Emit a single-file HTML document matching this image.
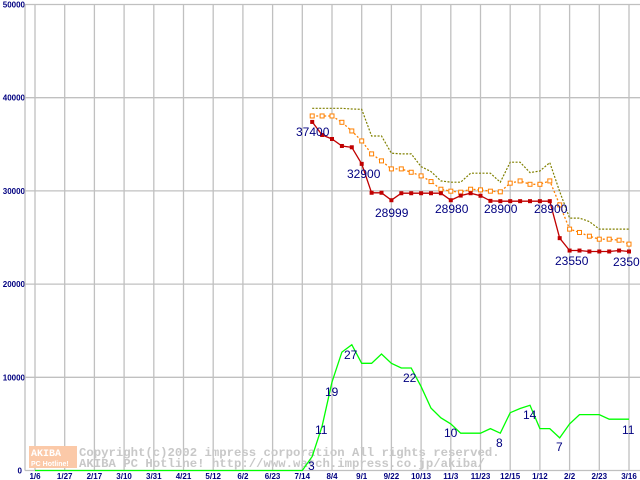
<!DOCTYPE html>
<html><head><meta charset="utf-8"><style>
html,body{margin:0;padding:0;background:#fff;width:640px;height:480px;overflow:hidden}
svg{display:block}
</style></head><body>
<svg id="chart" width="640" height="480" xmlns="http://www.w3.org/2000/svg" font-family="Liberation Sans, sans-serif">
<g id="grid"></g>
<g id="watermark">
<rect x="29" y="446" width="48" height="22" fill="#fbc9a8"/>
<text x="31" y="456" font-size="10" font-weight="bold" fill="#ffffff" font-family="Liberation Mono, monospace">AKIBA</text>
<text x="31" y="466" font-size="7" font-weight="bold" fill="#ffffff">PC Hotline!</text>
<text x="79" y="456" font-size="12.3" font-weight="bold" fill="#c8c8c8" font-family="Liberation Mono, monospace">Copyright(c)2002 impress corporation All rights reserved.</text>
<text x="79" y="467" font-size="12.3" font-weight="bold" fill="#c8c8c8" font-family="Liberation Mono, monospace">AKIBA PC Hotline!  http://www.watch.impress.co.jp/akiba/</text>
</g>
<g id="series"></g>
<g id="labels" font-size="12" fill="#000080">
<text x="296" y="136">37400</text>
<text x="347" y="178">32900</text>
<text x="375" y="217">28999</text>
<text x="435" y="213">28980</text>
<text x="484" y="213">28900</text>
<text x="534" y="213">28900</text>
<text x="555" y="265">23550</text>
<text x="613" y="266">23500</text>
<text x="308" y="470">3</text>
<text x="315" y="434">11</text>
<text x="325" y="396">19</text>
<text x="344" y="359">27</text>
<text x="403" y="382">22</text>
<text x="444" y="437">10</text>
<text x="496" y="447">8</text>
<text x="523" y="419">14</text>
<text x="556" y="451">7</text>
<text x="622" y="434">11</text>
</g>
</svg>
<script>
const xTickLabels = ["1/6","1/27","2/17","3/10","3/31","4/21","5/12","6/2","6/23","7/14","8/4","9/1","9/22","10/13","11/3","11/23","12/15","1/12","2/2","2/23","3/16"];
const yTickValues = [0,10000,20000,30000,40000,50000];
const priceStart = 28;
const minPrice = [37400,36000,35570,34820,34680,32900,29800,29800,29000,29750,29750,29750,29750,29750,29000,29500,29750,29480,28930,28900,28900,28900,28900,28900,28900,24930,23600,23600,23500,23500,23500,23600,23500];
const avgPrice = [38040,38040,38040,37360,36430,35360,33970,33220,32360,32360,32000,31610,31000,30180,29970,29860,30180,30110,29970,29900,30830,31070,30710,30710,31070,28500,25900,25540,25140,24820,24820,24710,24290];
const maxPrice = [38860,38860,38860,38860,38790,38750,35890,35890,34040,33970,33970,32610,32070,31070,30930,30930,31900,31900,31900,30930,33080,33080,31960,32140,33040,29930,27080,27080,26710,25900,25900,25900,25900];
const shopStart = 27;
const shopCount = [0,3,9.5,19,25.4,27,23,23,25,23,22,22,18,13.4,11.3,10,8,8,8,9,8,12.4,13.3,14,9,9,7,10,12,12,12,11,11,11];
const countScale = 500;

const NS = "http://www.w3.org/2000/svg";
const X0 = 35, STEP = 9.9, YTOP = 4.5, YBOT = 470.5;
function xAt(i){ return X0 + i*STEP; }
function yAt(v){ return YBOT - (v/50000)*(YBOT-YTOP); }
function mk(tag, attrs, parent){ const e=document.createElementNS(NS,tag); for(const k in attrs) e.setAttribute(k,attrs[k]); parent.appendChild(e); return e; }

const grid=document.getElementById('grid');
yTickValues.forEach(v=>{
  const l=mk('line',{x1:25,x2:640,y1:yAt(v),y2:yAt(v),stroke:'#c0c0c0','stroke-width':1.3},grid);
  
  
  const t=mk('text',{x:v===0?22:25,y:yAt(v)+3,'font-size':8,'font-weight':'bold',fill:'#000080','text-anchor':'end'},grid);
  t.textContent=String(v);
  
  
});
const ax=mk('line',{x1:25,x2:25,y1:YTOP,y2:YBOT,stroke:'#c0c0c0','stroke-width':1.3},grid);


xTickLabels.forEach((s,k)=>{
  const x=xAt(k*3);
  const l=mk('line',{x1:x,x2:x,y1:YTOP,y2:YBOT,stroke:'#c0c0c0','stroke-width':1.3},grid);
  
  
  const t=mk('text',{x:x,y:479,'font-size':8,'font-weight':'bold',fill:'#000080','text-anchor':'middle'},grid);
  t.textContent=s;
  
  
});

const ser=document.getElementById('series');
function pts(arr,start,mult){ return arr.map((v,i)=>xAt(start+i).toFixed(1)+','+yAt(v*mult).toFixed(1)).join(' '); }
// shop count line (with zeros before start)
const fullShop=[]; for(let i=0;i<shopStart;i++) fullShop.push(0); shopCount.forEach(v=>fullShop.push(v));
const g=mk('polyline',{points:pts(fullShop,0,countScale),fill:'none',stroke:'#00ff00','stroke-width':1.3},ser);


const mx=mk('polyline',{points:pts(maxPrice,priceStart,1),fill:'none',stroke:'#808000','stroke-width':1.2,'stroke-dasharray':'2,1.5'},ser);


const av=mk('polyline',{points:pts(avgPrice,priceStart,1),fill:'none',stroke:'#ff8000','stroke-width':1.3,'stroke-dasharray':'2,2'},ser);


avgPrice.forEach((v,i)=>{
  const r=mk('rect',{x:xAt(priceStart+i)-2,y:yAt(v)-2,width:4,height:4,fill:'#fff',stroke:'#ff8000','stroke-width':1},ser);
  
  
});
const mn=mk('polyline',{points:pts(minPrice,priceStart,1),fill:'none',stroke:'#c00000','stroke-width':1.3},ser);


minPrice.forEach((v,i)=>{
  const r=mk('rect',{x:xAt(priceStart+i)-2,y:yAt(v)-2,width:4,height:4,fill:'#c00000'},ser);
  
  
});
</script>
</body></html>
